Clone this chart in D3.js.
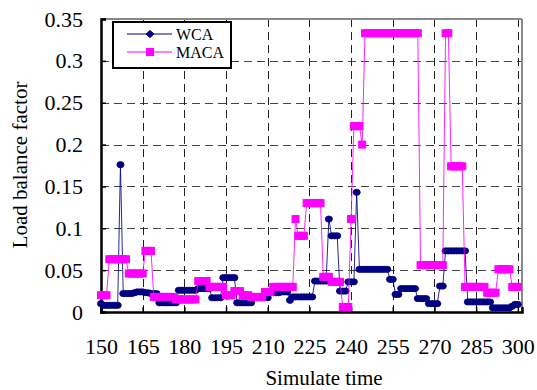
<!DOCTYPE html>
<html>
<head>
<meta charset="utf-8">
<script src="https://cdn.jsdelivr.net/npm/d3@7"></script>
<style>
  html, body { margin: 0; padding: 0; background: #fff; }
  svg { display: block; }
  text { font-family: "Liberation Serif", "Times New Roman", serif; fill: #000; }
</style>
</head>
<body>
<svg id="chart" width="537" height="390"></svg>
<script>
// ---------- data ----------
const times = d3.range(150, 301);   // simulate time 150..300 step 1
const seriesNames = ["WCA", "MACA"];
const wcaValues = [
  0.010, 0.008, 0.008, 0.008, 0.008, 0.008, 0.008, 0.176, 0.022, 0.022, // 150-159
  0.022, 0.022, 0.023, 0.024, 0.024, 0.024, 0.023, 0.023, 0.022, 0.022, // 160-169
  0.022, 0.011, 0.011, 0.011, 0.011, 0.011, 0.011, 0.011, 0.026, 0.026, // 170-179
  0.026, 0.026, 0.026, 0.026, 0.026, 0.028, 0.028, 0.028, 0.028, 0.028, // 180-189
  0.017, 0.017, 0.017, 0.017, 0.041, 0.041, 0.041, 0.041, 0.041, 0.011, // 190-199
  0.011, 0.011, 0.011, 0.011, 0.011, 0.017, 0.017, 0.017, 0.017, 0.017, // 200-209
  0.017, 0.023, 0.023, 0.023, 0.023, 0.024, 0.024, 0.024, 0.014, 0.018, // 210-219
  0.018, 0.018, 0.018, 0.018, 0.018, 0.018, 0.018, 0.037, 0.037, 0.037, // 220-229
  0.037, 0.037, 0.111, 0.091, 0.091, 0.091, 0.025, 0.025, 0.025, 0.036, // 230-239
  0.036, 0.036, 0.143, 0.051, 0.051, 0.051, 0.051, 0.051, 0.051, 0.051, // 240-249
  0.051, 0.051, 0.051, 0.051, 0.039, 0.039, 0.021, 0.021, 0.028, 0.028, // 250-259
  0.028, 0.028, 0.028, 0.028, 0.016, 0.016, 0.016, 0.016, 0.010, 0.010, // 260-269
  0.010, 0.010, 0.031, 0.031, 0.073, 0.073, 0.073, 0.073, 0.073, 0.073, // 270-279
  0.073, 0.073, 0.012, 0.012, 0.012, 0.012, 0.012, 0.012, 0.012, 0.012, // 280-289
  0.012, 0.005, 0.005, 0.005, 0.005, 0.005, 0.005, 0.005, 0.007, 0.009, // 290-299
  0.009                                                                 // 300
];
const macaValues = [
  0.020, 0.020, 0.020, 0.063, 0.063, 0.063, 0.063, 0.063, 0.063, 0.063, // 150-159
  0.046, 0.046, 0.046, 0.046, 0.046, 0.046, 0.073, 0.073, 0.073, 0.018, // 160-169
  0.018, 0.018, 0.018, 0.018, 0.018, 0.018, 0.018, 0.015, 0.015, 0.015, // 170-179
  0.015, 0.015, 0.015, 0.015, 0.015, 0.037, 0.037, 0.037, 0.037, 0.030, // 180-189
  0.030, 0.030, 0.030, 0.030, 0.030, 0.020, 0.020, 0.020, 0.025, 0.025, // 190-199
  0.025, 0.020, 0.020, 0.020, 0.018, 0.018, 0.018, 0.018, 0.018, 0.024, // 200-209
  0.024, 0.024, 0.030, 0.030, 0.030, 0.030, 0.030, 0.030, 0.030, 0.030, // 210-219
  0.111, 0.091, 0.091, 0.091, 0.130, 0.130, 0.130, 0.130, 0.130, 0.130, // 220-229
  0.042, 0.042, 0.042, 0.036, 0.036, 0.036, 0.036, 0.006, 0.006, 0.006, // 230-239
  0.111, 0.222, 0.222, 0.222, 0.200, 0.333, 0.333, 0.333, 0.333, 0.333, // 240-249
  0.333, 0.333, 0.333, 0.333, 0.333, 0.333, 0.333, 0.333, 0.333, 0.333, // 250-259
  0.333, 0.333, 0.333, 0.333, 0.333, 0.056, 0.056, 0.056, 0.056, 0.056, // 260-269
  0.056, 0.056, 0.056, 0.056, 0.333, 0.333, 0.174, 0.174, 0.174, 0.174, // 270-279
  0.174, 0.030, 0.030, 0.030, 0.030, 0.030, 0.030, 0.030, 0.030, 0.023, // 280-289
  0.023, 0.023, 0.023, 0.051, 0.051, 0.051, 0.051, 0.051, 0.030, 0.030, // 290-299
  0.030                                                                 // 300
];
const xTicks = [150, 165, 180, 195, 210, 225, 240, 255, 270, 285, 300];
const yTicks = [0, 0.05, 0.1, 0.15, 0.2, 0.25, 0.3, 0.35];
const xTitle = "Simulate time";
const yTitle = "Load balance factor";
const colors = { WCA: "#000080", MACA: "#FF00FF" };

// ---------- layout ----------
const svg = d3.select("#chart");
const pL = 101, pR = 522, pT = 19, pB = 312;
const x = d3.scaleLinear().domain([150, 301.5]).range([pL, pR]);
const y = d3.scaleLinear().domain([0, 0.35]).range([pB, pT]);
const serif = '"Liberation Serif", "Times New Roman", serif';

// gridlines
const grid = svg.append("g");
grid.selectAll("line.h").data(yTicks.filter(d => d > 0 && d < 0.35)).enter().append("line")
  .attr("x1", pL).attr("x2", pR)
  .attr("y1", d => Math.round(y(d)) + 0.5).attr("y2", d => Math.round(y(d)) + 0.5)
  .attr("stroke", "#444").attr("stroke-width", 1).attr("stroke-dasharray", "8,5");
grid.selectAll("line.v").data(xTicks.filter(d => d > 150)).enter().append("line")
  .attr("x1", d => Math.round(x(d)) + 0.5).attr("x2", d => Math.round(x(d)) + 0.5)
  .attr("y1", pT).attr("y2", pB)
  .attr("stroke", "#222").attr("stroke-width", 1).attr("stroke-dasharray", "8,5");

// top/right border (gray)
svg.append("line").attr("x1", pL).attr("x2", pR).attr("y1", pT).attr("y2", pT)
  .attr("stroke", "#888").attr("stroke-width", 2);
svg.append("line").attr("x1", pR).attr("x2", pR).attr("y1", pT).attr("y2", pB)
  .attr("stroke", "#888").attr("stroke-width", 2);

// axes
const xAxis = svg.append("g").attr("transform", `translate(0,${pB})`)
  .call(d3.axisBottom(x).tickValues(xTicks).tickSize(-5).tickPadding(26).tickFormat(d3.format("d")));
const yAxis = svg.append("g").attr("transform", `translate(${pL},0)`)
  .call(d3.axisLeft(y).tickValues(yTicks).tickSize(-5).tickPadding(18).tickFormat(d => d === 0 ? "0" : String(+d.toFixed(2))));
[xAxis, yAxis].forEach(g => {
  g.attr("font-family", serif).attr("font-size", 22);
  g.select(".domain").attr("stroke", "#000").attr("stroke-width", 2.5);
  g.selectAll(".tick line").attr("stroke", "#000").attr("stroke-width", 1.5);
  g.selectAll(".tick text").style("font-size", "22px").style("font-family", serif).attr("fill", "#000");
});

// series
const seriesData = {
  WCA: times.map((t, i) => ({ t, v: wcaValues[i] })),
  MACA: times.map((t, i) => ({ t, v: macaValues[i] }))
};
const line = d3.line().x(d => x(d.t)).y(d => y(d.v));
const diamond = "M0,-3.6L4,0L0,3.6L-4,0Z";

seriesNames.forEach(name => {
  const g = svg.append("g");
  g.append("path").datum(seriesData[name]).attr("d", line)
    .attr("fill", "none").attr("stroke", colors[name]).attr("stroke-width", 1).attr("stroke-opacity", 0.85);
  if (name === "WCA") {
    g.selectAll("ellipse.m").data(seriesData[name]).enter().append("ellipse")
      .attr("cx", d => x(d.t)).attr("cy", d => y(d.v))
      .attr("rx", 3.6).attr("ry", 3.1)
      .attr("fill", colors[name]).attr("stroke", colors[name]).attr("stroke-width", 0.8);
  } else {
    g.selectAll("rect.m").data(seriesData[name]).enter().append("rect")
      .attr("x", d => x(d.t) - 3.5).attr("y", d => y(d.v) - 3.5)
      .attr("width", 7).attr("height", 7)
      .attr("fill", colors[name]).attr("stroke", colors[name]).attr("stroke-width", 1);
  }
});

// legend
const lg = svg.append("g");
lg.append("rect").attr("x", 113).attr("y", 22).attr("width", 118).attr("height", 46)
  .attr("fill", "#fff").attr("stroke", "#000").attr("stroke-width", 2);
seriesNames.forEach((name, i) => {
  const yy = 34 + i * 18;
  lg.append("line").attr("x1", 127).attr("x2", 172).attr("y1", yy).attr("y2", yy)
    .attr("stroke", colors[name]).attr("stroke-width", 1);
  if (name === "WCA") {
    lg.append("path").attr("d", diamond).attr("transform", `translate(150,${yy})`)
      .attr("fill", colors[name]).attr("stroke", colors[name]);
  } else {
    lg.append("rect").attr("x", 146.5).attr("y", yy - 3.5).attr("width", 7).attr("height", 7)
      .attr("fill", colors[name]).attr("stroke", colors[name]);
  }
  lg.append("text").attr("x", 176).attr("y", yy + 5.5).style("font-size", "16px").style("font-family", serif).text(name);
});

// axis titles
svg.append("text").attr("x", 324).attr("y", 385).attr("text-anchor", "middle")
  .style("font-size", "21px").style("font-family", serif).text(xTitle);
svg.append("text").attr("transform", "translate(27,165) rotate(-90)").attr("text-anchor", "middle")
  .style("font-size", "21px").style("font-family", serif).text(yTitle);
</script>
</body>
</html>
